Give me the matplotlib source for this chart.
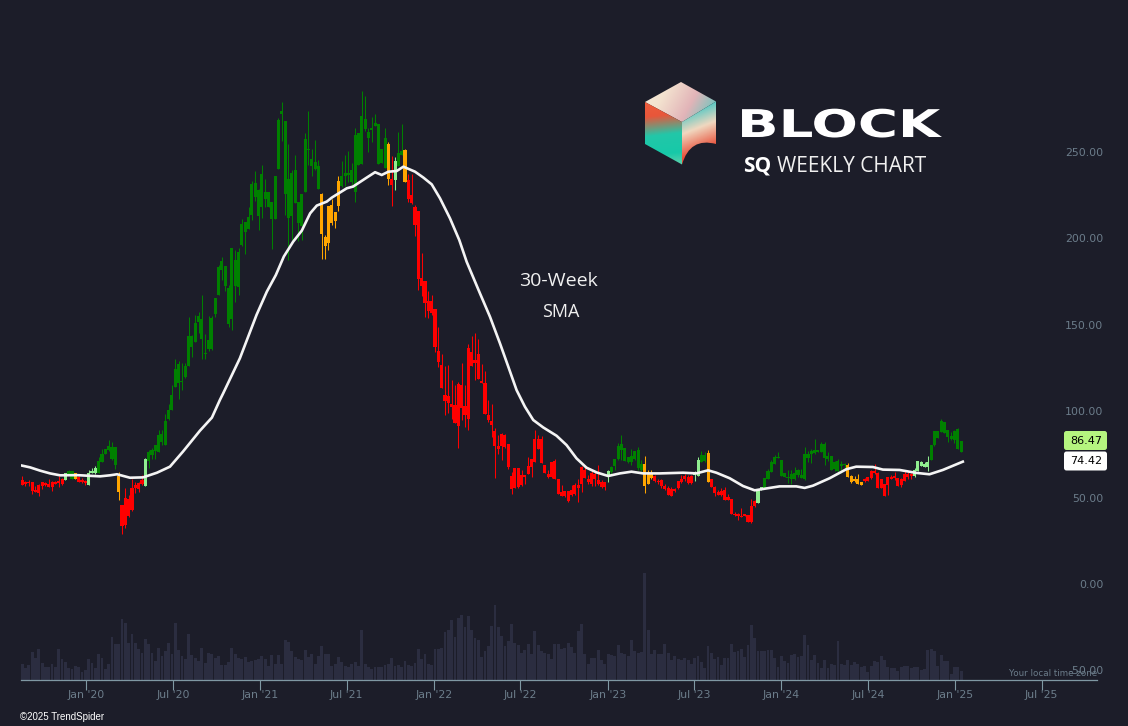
import matplotlib
matplotlib.use('Agg')
import matplotlib.pyplot as plt
import matplotlib.dates as mdates
import matplotlib.patheffects as pe
import numpy as np
import pandas as pd
from matplotlib.colors import LinearSegmentedColormap
from matplotlib.patches import FancyBboxPatch, PathPatch
from matplotlib.path import Path
from matplotlib.transforms import Affine2D

# Weekly candles: body top, body bottom, high, low
body_top = [60.2,59.2,58.8,58.8,54.4,57.5,58.8,58.3,57.9,59.0,59.2,59.6,61.0,64.2,65.4,65.4,64.2,61.7,60.4,59.8,
64.2,65.4,66.9,71.2,75.2,78.1,79.9,79.3,79.3,62.5,45.7,49.8,49.2,55.5,57.3,58.3,60.2,72.3,76.4,77.5,
80.4,86.2,86.8,94.3,100.7,109.4,124.4,127.3,117.5,126.2,143.5,143.7,151.1,155.1,153.4,133.7,141.2,154.0,165.5,183.5,
187.0,184.1,171.3,194.5,187.5,192.2,208.4,209.5,212.4,231.5,232.1,228.0,237.3,226.9,226.9,221.1,236.1,268.5,273.8,268.0,
234.4,237.9,239.6,221.1,225.7,257.6,251.8,246.0,244.2,241.9,225.7,200.8,218.8,219.4,215.3,233.2,236.1,237.9,237.9,239.6,
259.9,261.0,270.9,269.1,261.6,263.9,266.8,266.2,251.8,258.1,254.7,234.4,244.8,249.4,250.6,251.2,233.8,225.1,218.2,215.9,
177.1,175.4,163.8,163.8,159.2,134.9,126.7,109.4,108.8,104.1,103.6,115.7,115.1,103.0,136.6,134.2,129.6,133.1,117.5,116.3,
97.8,94.3,88.5,79.8,86.8,86.2,81.0,62.5,67.1,67.1,63.1,63.1,68.3,72.3,83.9,83.9,83.9,68.8,63.6,70.6,
71.2,60.7,53.2,53.8,53.8,54.4,57.3,57.3,67.7,66.0,60.7,64.2,63.6,60.2,59.0,59.0,65.4,67.7,72.3,79.8,
81.0,78.7,73.5,74.1,77.0,77.5,69.4,69.4,64.8,63.6,62.5,59.6,60.2,56.7,55.5,54.9,54.9,59.6,60.7,62.5,
61.9,62.5,64.2,71.8,74.7,74.7,75.8,60.8,56.2,53.3,53.8,54.4,50.4,49.2,40.5,40.5,39.4,40.5,39.9,45.2,
48.0,54.4,56.2,61.4,65.4,70.6,73.5,73.5,71.8,64.3,61.9,63.7,64.3,66.0,63.1,75.3,75.3,77.2,77.6,77.6,
81.0,81.0,74.1,74.1,70.6,71.2,69.5,69.5,68.9,62.5,60.8,60.8,59.0,60.8,61.9,65.4,65.4,64.3,60.8,57.9,
61.9,61.9,62.5,61.4,60.8,63.7,63.7,63.7,66.0,71.2,70.6,69.5,70.6,80.5,88.6,88.6,94.3,93.8,89.1,85.7,
88.6,89.7,82.8]
body_bot = [57.3,57.7,58.3,53.8,53.4,52.5,56.9,57.3,56.1,56.1,58.1,58.6,57.9,60.2,63.7,60.8,60.8,59.0,59.0,58.4,
57.3,64.2,64.4,64.2,70.6,75.2,77.5,72.3,68.9,53.2,33.5,34.1,39.3,42.6,55.4,55.0,57.9,56.7,71.2,74.7,
77.0,76.4,82.2,80.4,95.5,100.7,114.2,116.5,117.1,119.8,126.2,137.2,140.1,151.6,141.8,133.3,136.0,135.8,156.3,167.3,
181.7,172.5,150.5,153.4,172.5,171.9,196.2,203.7,205.5,213.6,224.0,213.0,218.2,222.8,218.2,211.3,211.3,240.2,271.8,225.7,
211.8,213.0,220.5,209.0,207.2,226.9,251.2,241.9,240.2,228.6,202.6,195.6,197.4,209.0,210.1,218.8,230.4,236.1,236.7,232.7,
226.9,242.5,243.1,263.3,258.1,262.8,265.1,243.1,243.7,240.8,234.4,230.9,233.8,241.9,248.3,232.7,222.8,220.5,207.8,176.5,
172.5,162.6,158.0,156.9,137.2,128.5,113.4,105.9,104.7,102.4,93.1,91.4,101.8,97.8,95.5,126.1,127.9,118.6,116.1,98.4,
94.9,92.0,79.8,78.1,79.8,79.3,67.7,55.0,55.5,56.1,57.3,61.9,63.6,67.7,70.6,78.1,70.0,64.2,61.9,61.9,
60.7,52.1,50.9,50.9,48.0,51.5,52.1,55.5,57.9,61.3,59.0,57.9,60.7,57.9,56.1,56.1,62.5,64.8,68.3,72.3,
77.5,71.2,70.6,70.6,72.3,67.1,66.0,56.7,57.9,61.3,59.6,59.0,56.7,54.9,51.5,50.9,53.8,55.5,59.0,60.7,
58.4,58.4,63.1,62.5,70.8,71.2,59.0,56.2,52.7,51.5,51.5,48.6,48.6,40.5,39.9,39.4,38.8,39.4,35.9,35.9,
45.2,46.9,54.4,55.0,60.8,64.8,69.5,72.9,62.5,61.9,61.4,60.8,60.8,63.1,61.4,60.8,72.9,75.3,75.8,76.4,
76.4,72.9,72.4,66.0,66.6,65.4,68.3,68.9,61.9,59.0,59.6,57.9,57.3,59.6,59.6,61.4,64.3,55.6,55.6,50.9,
57.3,60.8,61.4,56.7,57.3,59.6,61.9,62.5,62.5,65.4,68.3,67.7,67.7,71.8,80.5,84.5,88.0,87.4,85.1,83.9,
83.4,78.1,76.4]
high = [62.5,59.6,60.2,58.8,56.7,57.9,59.2,58.8,60.8,59.4,59.6,62.5,61.3,64.2,66.0,65.4,64.2,62.5,61.1,60.4,
66.0,67.1,68.3,73.5,78.1,78.1,83.3,82.0,79.3,64.8,45.7,55.5,51.5,60.8,59.0,59.0,63.1,72.9,77.5,78.7,
80.4,89.1,89.1,98.4,104.2,115.2,130.2,129.1,127.7,127.7,154.5,144.1,155.7,157.2,167.3,144.7,155.1,155.1,165.5,184.6,
189.3,184.1,173.1,194.5,193.3,194.5,211.3,209.5,218.2,233.2,239.0,228.6,242.5,234.4,226.9,221.1,236.1,269.7,279.0,268.0,
254.7,239.6,248.3,221.1,225.7,261.0,273.8,251.8,257.0,245.4,226.3,202.0,218.8,222.8,215.3,236.1,244.8,248.3,250.6,243.7,
263.9,261.0,285.3,282.4,263.9,270.3,272.0,266.2,251.8,263.9,255.8,247.7,247.1,261.6,266.2,251.8,237.3,237.3,219.4,215.9,
191.6,175.4,169.6,167.3,159.2,148.8,133.1,126.1,126.7,118.0,115.1,116.9,127.9,115.1,138.9,143.5,145.2,141.8,127.3,123.2,
106.5,104.1,90.3,86.2,87.4,86.8,81.0,64.8,67.1,67.1,66.0,63.1,73.5,72.3,89.1,86.2,85.6,68.8,65.9,70.6,
72.3,60.7,57.3,53.8,53.8,57.3,58.4,60.7,68.3,67.9,63.1,65.4,65.4,68.8,60.2,59.0,66.0,68.3,72.3,81.6,
86.2,78.7,73.5,78.1,77.0,79.3,71.7,74.1,65.9,65.9,63.1,60.7,60.7,57.9,56.7,56.1,55.5,59.6,63.1,63.6,
63.1,63.1,65.4,73.5,77.0,76.4,77.6,60.8,56.7,54.4,55.6,56.2,52.1,49.2,41.7,41.1,44.0,40.5,39.9,49.2,
48.6,55.0,56.2,61.4,66.6,71.8,74.7,76.4,71.8,64.3,66.0,66.0,67.7,66.6,66.6,79.3,77.0,78.1,83.9,77.6,
82.2,82.2,76.4,74.1,71.2,72.4,71.2,70.0,70.0,63.1,62.5,63.7,59.0,61.4,61.9,66.0,69.5,64.8,60.8,57.9,
61.9,63.1,64.8,61.4,61.4,65.4,64.8,64.3,67.2,71.2,71.2,70.6,74.1,80.5,88.6,88.6,95.5,93.8,89.1,88.0,
89.1,90.3,82.8]
low = [57.3,56.9,56.9,52.1,53.0,50.9,55.0,56.7,56.1,53.8,57.7,56.1,57.3,60.2,63.7,60.8,60.8,59.0,58.4,57.3,
57.3,64.2,63.7,64.2,70.6,75.2,77.0,71.8,66.5,48.6,28.9,32.4,38.8,42.0,52.7,53.4,57.3,56.7,67.1,72.3,
72.3,76.4,80.4,80.4,94.9,100.7,114.2,107.3,112.3,119.0,126.2,131.4,140.1,145.3,130.2,130.2,134.9,135.4,154.5,167.3,
176.0,169.6,148.8,147.0,163.2,167.3,195.6,191.2,205.5,210.7,221.7,204.9,211.8,218.2,218.2,193.9,211.3,240.2,256.4,213.6,
187.5,199.1,220.5,198.5,199.1,226.9,242.5,236.1,239.6,228.6,188.1,188.1,193.3,207.8,206.0,215.9,229.8,230.4,232.7,229.8,
221.1,242.5,243.1,262.2,250.0,255.8,265.1,243.1,243.7,240.8,230.9,218.8,228.0,241.9,248.3,232.7,221.1,219.9,201.4,170.2,
166.7,154.5,154.0,155.7,134.3,125.6,113.4,97.8,98.7,95.5,93.1,78.7,94.9,91.0,89.1,126.1,118.0,118.6,116.1,98.4,
93.7,85.0,61.3,75.2,71.7,78.5,66.5,52.1,55.5,55.5,56.7,57.9,63.6,61.9,70.6,78.1,70.0,64.2,61.3,61.3,
60.7,52.1,50.9,50.3,47.4,50.9,51.5,47.4,53.2,61.3,57.9,56.7,56.7,57.3,55.5,54.4,59.0,63.1,66.0,71.7,
71.7,71.2,70.0,68.8,71.7,66.0,65.4,52.6,57.9,60.7,59.0,57.9,55.5,54.4,51.5,50.9,53.2,54.9,58.4,59.6,
57.9,57.9,59.6,62.5,70.6,70.6,59.0,56.2,50.9,51.5,50.9,48.6,48.6,40.5,39.4,37.1,38.8,39.4,35.9,35.3,
44.6,46.9,54.4,55.0,60.8,64.8,69.5,72.9,62.5,61.9,58.5,57.9,60.2,61.9,61.4,60.2,70.6,70.0,75.3,76.4,
76.4,68.9,71.2,66.0,65.4,64.8,64.3,66.0,61.9,58.5,59.0,57.9,57.3,59.0,59.6,60.8,63.7,55.6,55.6,50.9,
51.5,60.8,60.2,56.7,56.2,59.6,60.8,60.8,61.9,65.4,68.3,67.7,65.4,71.8,79.9,84.5,88.0,87.4,82.2,83.4,
81.6,78.1,76.4]

# colour state of each week as runs: R red, L light green, G green, O orange
state_runs = [('R',13),('L',1),('G',2),('O',1),('R',3),('L',3),('G',6),('O',1),('R',7),('L',1),
              ('G',52),('O',6),('G',14),('O',1),('R',1),('L',1),('G',2),('O',1),('R',60),('L',1),
              ('G',10),('O',3),('R',12),('L',2),('G',2),('O',1),('R',14),('L',2),('G',25),('O',5),
              ('R',15),('L',5),('G',10)]

# volume bars
volume = [46,34,43,82,64,91,49,37,37,46,37,91,61,52,34,31,40,37,22,28,
61,49,34,76,64,31,46,127,106,106,181,169,109,136,109,91,79,121,106,79,
55,94,70,85,109,76,169,88,70,61,136,73,64,55,94,49,79,76,64,70,
43,43,52,94,76,64,61,67,52,55,58,61,70,61,40,73,46,73,46,118,
112,85,67,61,58,88,67,76,46,70,100,76,76,40,46,67,52,40,37,46,
52,40,148,46,37,31,37,37,37,43,46,64,40,43,37,55,43,40,49,91,
61,76,46,43,91,91,94,142,148,178,127,184,193,157,190,148,124,118,67,85,
100,160,223,157,
130,100,115,166,109,103,79,88,106,76,145,103,85,79,76,61,106,106,91,94,
109,97,79,145,166,76,46,64,64,88,58,46,76,73,70,103,79,76,70,118,
85,79,82,319,148,76,88,76,76,106,79,58,70,61,58,64,58,46,64,70,
52,34,100,79,61,67,43,64,64,106,82,85,91,67,103,163,124,85,85,85,
88,88,64,37,70,55,49,73,76,67,70,133,103,58,73,49,34,58,34,46,
43,115,46,43,58,43,52,46,37,40,22,40,55,52,70,58,37,34,34,25,
37,40,40,34,37,37,28,31,88,91,85,40,73,55,55,16,37,37,25]

# 30-week SMA, read at these week numbers
sma_week = [0,2.4,5.4,8.4,11.4,16.5,23.4,26.4,28.5,32.4,36.3,40.5,44.4,48.3,53.4,57,59.4,60.4,65.4,70.4,
73.5,76.2,78.6,81.4,84,86.5,88.5,91.5,93,97.5,99.4,103.5,106,108,110,112.5,114.5,118,120.5,123,
125.5,128.5,131.3,133.5,137.5,140.5,143.5,146,148.5,151,153.5,156.5,160.5,163.5,166.5,169.5,172.5,176,179.5,183,
186.5,191.5,198.5,202.5,206,208.5,212.5,216.5,220,222.5,227.5,232.5,235,237.5,242.5,247.5,250.5,255.5,258.5,263.5,
268.5,272.5,276.5,282.5]
sma_value = [68.5,67.5,65.6,64.0,62.9,63.0,62.3,62.9,63.5,61.5,61.7,64.4,67.9,76.6,88.7,96.3,106.5,110.4,130.6,155.7,
169.2,178.8,189.5,198.1,204.5,214.5,219.0,221.3,223.6,229.0,230.0,235.2,238.3,236.7,238.6,239.0,241.5,238.6,235.2,231.3,
223.2,211.6,199.0,186.5,168.2,154.7,139.3,125.8,112.2,102.6,94.9,90.6,85.8,80.4,72.7,67.3,64.6,62.5,64.0,65.0,
64.0,64.0,64.4,64.0,65.8,64.4,61.2,56.7,54.2,55.0,56.5,56.5,55.6,56.9,61.2,66.4,67.9,67.7,66.2,66.0,
64.3,63.5,66.0,70.8]

price_ticks = [250, 200, 150, 100, 50, 0, -50]
date_ticks = ['2020-01-01','2020-07-01','2021-01-01','2021-07-01','2022-01-01','2022-07-01',
              '2023-01-01','2023-07-01','2024-01-01','2024-07-01','2025-01-01','2025-07-01']
date_labels = ["Jan '20","Jul '20","Jan '21","Jul '21","Jan '22","Jul '22",
               "Jan '23","Jul '23","Jan '24","Jul '24","Jan '25","Jul '25"]

bg = '#1c1d29'
tick_text = '#6b7c8a'
colors = {'R': '#ff0000', 'L': '#90ee90', 'G': '#008000', 'O': '#ffa500'}
state = [s for s, n in state_runs for _ in range(n)]
candle_colors = [colors[s] for s in state]
dates = pd.date_range('2019-08-19', periods=len(body_top), freq='7D')

W, H = 1128, 726
fig = plt.figure(figsize=(W / 100, H / 100), dpi=100, facecolor=bg)

# volume sits behind the price axes, same frame
rect = [21 / W, (H - 679.5) / H, (1097 - 21) / W, 679.5 / H]
ax_vol = fig.add_axes(rect, facecolor=bg)
ax_vol.bar(dates, volume, width=6.0, color='#2b2d40', linewidth=0)
ax_vol.set_ylim(0, 679.5 * 3)
ax_vol.set_yticks([])

ax = fig.add_axes(rect, facecolor='none')
wicks = ax.vlines(dates, low, high, colors=candle_colors, linewidth=0.75)
wicks.set_snap(True)
ax.bar(dates, np.array(body_top) - np.array(body_bot), bottom=body_bot, width=6.5,
       color=candle_colors, linewidth=0)
ax.plot(dates[0] + pd.to_timedelta(np.array(sma_week) * 7, unit='D'), sma_value,
        color='#f4f4f4', linewidth=1.9, solid_joinstyle='round')

ax.set_ylim((584 - 679.5) / 1.728, 584 / 1.728)
ax.set_yticks(price_ticks)
ax.set_yticklabels(['%.2f' % p for p in price_ticks])
ax.yaxis.tick_right()
ax.tick_params(axis='y', length=0, pad=4.5, labelsize=7.9, labelcolor=tick_text)
for lab in ax.get_yticklabels():
    lab.set_ha('right')

x_left = mdates.date2num(pd.Timestamp('2020-01-01')) - 137.3
x_right = mdates.date2num(pd.Timestamp('2020-01-01')) + 2124.6
for a in (ax, ax_vol):
    a.set_xlim(x_left, x_right)
    for s in ('top', 'left', 'right'):
        a.spines[s].set_visible(False)
ax_vol.spines['bottom'].set_visible(False)
ax_vol.set_xticks([])
ax.spines['bottom'].set_color('#7f98a3')
ax.spines['bottom'].set_linewidth(0.9)
ax.set_xticks(mdates.date2num(pd.to_datetime(date_ticks)))
ax.set_xticklabels(date_labels)
ax.tick_params(axis='x', length=7, width=0.8, color='#7f98a3', pad=0.5, labelsize=7.9,
               labelcolor=tick_text)

# overlay in pixel coordinates for logo and notes
ov = fig.add_axes([0, 0, 1, 1], facecolor='none')
ov.axis('off')


class StretchX(pe.AbstractPathEffect):
    def __init__(self, x0, sx):
        super().__init__()
        self.x0, self.sx = x0, sx

    def draw_path(self, renderer, gc, tpath, affine, rgbFace=None):
        stretch = Affine2D().translate(-self.x0, 0).scale(self.sx, 1).translate(self.x0, 0)
        renderer.draw_path(gc, tpath, affine + stretch, rgbFace)


def face(path, stops, direction):
    # logo facet: gradient image clipped to a path
    x0, y0, x1, y1 = 640, 78, 720, 168
    yy, xx = np.mgrid[0:1:120j, 0:1:120j]
    g = xx * direction[0] + yy * direction[1]
    g = (g - g.min()) / (g.max() - g.min())
    cmap = LinearSegmentedColormap.from_list('f', stops)
    im = ov.imshow(g, cmap=cmap, extent=(x0, x1, y1, y0), aspect='auto', interpolation='bilinear', zorder=3)
    patch = PathPatch(path, transform=ov.transData, facecolor='none', edgecolor='none')
    ov.add_patch(patch)
    im.set_clip_path(patch)


face(Path([(645, 102), (681, 82), (716, 101.5), (682, 122), (645, 102)]),
     ['#f6efdf', '#f3e2cf', '#e2b4b8', '#5cc9c0', '#e9735a'], (0.8, 0.5))
face(Path([(645, 102), (682, 122), (682, 164.5), (645, 144), (645, 102)]),
     ['#f1d9bf', '#ee5f3e', '#e8563a', '#22c7a9', '#17c9a8', '#8fd6ae'], (0.1, 1))
face(Path([(682, 122), (716, 101.5), (716, 144), (690, 137), (682, 164.5), (682, 122)],
          [Path.MOVETO, Path.LINETO, Path.LINETO, Path.CURVE3, Path.CURVE3, Path.CLOSEPOLY]),
     ['#d9a5d8', '#c7b6dc', '#35c4c4', '#f0d8c0', '#e8503a', '#d93b30'], (0.35, 1))

ov.set_xlim(0, W)
ov.set_ylim(H, 0)

ov.text(737, 137, 'BLOCK', color='white', fontsize=27.5, fontweight='bold', family='DejaVu Sans',
        ha='left', va='baseline', path_effects=[StretchX(737, 1.43)])
ov.text(743, 166, 'SQ', color='white', fontsize=15, fontweight='bold', family='Open Sans', ha='left', va='center')
ov.text(777, 166, 'WEEKLY CHART', color='#f0f0f0', fontsize=15, family='Open Sans', ha='left', va='center')
ov.text(558, 281, '30-Week', color='#f0f0f0', fontsize=14, family='Open Sans', ha='center', va='center')
ov.text(561, 312, 'SMA', color='#f0f0f0', fontsize=13, family='Open Sans', ha='center', va='center')

ov.add_patch(FancyBboxPatch((1065.5, 432.5), 40, 16, boxstyle='round,pad=1.5,rounding_size=2.5',
                            facecolor='#b5f57f', edgecolor='none'))
ov.add_patch(FancyBboxPatch((1065.5, 453), 40, 16, boxstyle='round,pad=1.5,rounding_size=2.5',
                            facecolor='white', edgecolor='none'))
ov.text(1086, 440.5, '86.47', color='black', fontsize=8, ha='center', va='center')
ov.text(1086, 461, '74.42', color='black', fontsize=8, ha='center', va='center')

ov.text(1097, 673, 'Your local time zone', color=tick_text, fontsize=6.3, ha='right', va='center')
ov.text(20, 716.5, '©2025 TrendSpider', color='white', fontsize=7, family='Liberation Sans', ha='left', va='center')

fig.savefig('out.png', dpi=100, facecolor=bg)
